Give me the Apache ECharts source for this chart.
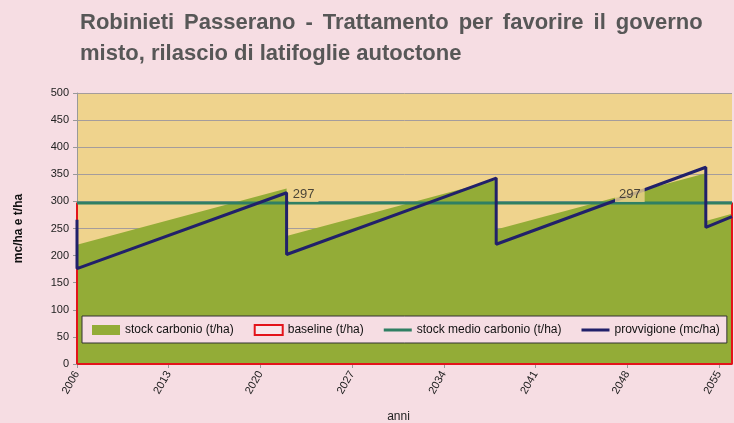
<!DOCTYPE html>
<html>
<head>
<meta charset="utf-8">
<script src="https://cdn.jsdelivr.net/npm/echarts@6/dist/echarts.min.js"></script>
<style>
  html, body { margin: 0; padding: 0; background: #F6DDE3; }
  #chart { width: 734px; height: 423px; }
</style>
</head>
<body>
<div id="chart"></div>
<script>
// anni di inizio/fine asse
var startYear = 2006;
var endYear = 2056;

// stock carbonio (t/ha) - vertici dell'area
var stockYears = [2006, 2022, 2022, 2038, 2038, 2054, 2054, 2056];
var stockValues = [220, 324, 236, 340, 248, 352, 264, 277];

// provvigione (mc/ha)
var provYears = [2006, 2006, 2022, 2022, 2038, 2038, 2054, 2054, 2056];
var provValues = [266, 176, 316, 202, 343, 221, 363, 252, 272];

// stock medio e baseline
var stockMedio = 297;
var baselineValue = 297;

// etichette "297"
var labelYears = [2023.3, 2048.2];

var titleLine1 = ['Robinieti', 'Passerano', '-', 'Trattamento', 'per', 'favorire', 'il', 'governo'];
var titleLine2 = 'misto, rilascio di latifoglie autoctone';

function pts(ys, vs) {
  return ys.map(function (y, i) { return [y - startYear, vs[i]]; });
}

// icona linea per la legenda (box 28x10, tratto di 3px al centro)
var lineIcon = 'path://M0,0L0.01,0L0,0Z M0,3.5L28,3.5L28,6.5L0,6.5Z M0,10L0.01,10L0,10Z';

var chart = echarts.init(document.getElementById('chart'));
var font = 'Liberation Sans, Arial, sans-serif';

chart.setOption({
  backgroundColor: '#F6DDE3',
  animation: false,
  title: {
    text: titleLine1.join('{s|}') + '\n' + titleLine2,
    left: 80,
    top: 7,
    padding: 0,
    textStyle: {
      fontFamily: font, fontSize: 22, fontWeight: 'bold', color: '#575757', lineHeight: 31,
      rich: { s: { width: 10 } }
    }
  },
  grid: {
    left: 77, right: 2, top: 93, bottom: 59, outerBoundsMode: 'none',
    show: true, backgroundColor: '#EFD38D', borderWidth: 0
  },
  legend: {
    left: 82, top: 316,
    backgroundColor: '#F6DDE3', borderColor: '#333', borderWidth: 1,
    padding: [8, 7, 7, 10],
    itemWidth: 28, itemHeight: 10, itemGap: 20,
    textStyle: { fontFamily: font, fontSize: 12, color: '#111' },
    data: [
      { name: 'stock carbonio (t/ha)', icon: 'rect' },
      { name: 'baseline (t/ha)', icon: 'rect', itemStyle: { color: '#F7E8EC', borderColor: '#E3141B', borderWidth: 2 } },
      { name: 'stock medio carbonio (t/ha)', icon: lineIcon, itemStyle: { color: '#2F7F63' } },
      { name: 'provvigione (mc/ha)', icon: lineIcon, itemStyle: { color: '#21206A' } }
    ]
  },
  xAxis: {
    type: 'value', min: 0, max: endYear - startYear, interval: 7,
    name: 'anni', nameLocation: 'middle', nameGap: 47,
    nameTextStyle: { fontFamily: font, fontSize: 12, color: '#222', padding: [0, 12, 0, 0] },
    axisLine: { lineStyle: { color: '#999' } },
    axisTick: { length: 4, lineStyle: { color: '#999' } },
    axisLabel: {
      rotate: 60, fontFamily: font, fontSize: 11, color: '#222', showMaxLabel: false,
      formatter: function (v) { return v + startYear; }
    },
    splitLine: { show: false }
  },
  yAxis: {
    type: 'value', min: 0, max: 500, interval: 50,
    name: 'mc/ha e t/ha', nameLocation: 'middle', nameGap: 52,
    nameTextStyle: { fontFamily: font, fontSize: 12, fontWeight: 'bold', color: '#111' },
    axisLine: { show: true, lineStyle: { color: '#999' } },
    axisTick: { show: true, length: 4, lineStyle: { color: '#999' } },
    axisLabel: { fontFamily: font, fontSize: 11, color: '#222', margin: 8 },
    splitLine: { lineStyle: { color: '#A49C9C', width: 1 } }
  },
  series: [
    {
      name: 'stock carbonio (t/ha)', type: 'line', symbol: 'none',
      data: pts(stockYears, stockValues),
      lineStyle: { width: 0 }, itemStyle: { color: '#93AC37' },
      areaStyle: { color: '#93AC37', opacity: 1 }
    },
    {
      name: 'baseline (t/ha)', type: 'line', symbol: 'none',
      data: pts([startYear, startYear, endYear, endYear, startYear], [0, baselineValue, baselineValue, 0, 0]),
      lineStyle: { color: '#E3141B', width: 2 }, itemStyle: { color: '#E3141B' }
    },
    {
      name: 'stock medio carbonio (t/ha)', type: 'line', symbol: 'none',
      data: pts([startYear, endYear], [stockMedio, stockMedio]),
      lineStyle: { color: '#2F7F63', width: 3 }, itemStyle: { color: '#2F7F63' }
    },
    {
      name: 'provvigione (mc/ha)', type: 'line', symbol: 'none',
      data: pts(provYears, provValues),
      lineStyle: { color: '#21206A', width: 3 }, itemStyle: { color: '#21206A' }
    },
    {
      type: 'scatter', symbolSize: 0, silent: true, z: 20,
      data: pts(labelYears, labelYears.map(function () { return stockMedio; })),
      label: {
        show: true, position: 'top', distance: 1,
        formatter: function (p) { return p.value[1]; },
        fontFamily: font, fontSize: 13, color: '#222',
        backgroundColor: '#EFD38D', padding: [3, 4, 1, 4]
      }
    }
  ]
});
</script>
</body>
</html>
